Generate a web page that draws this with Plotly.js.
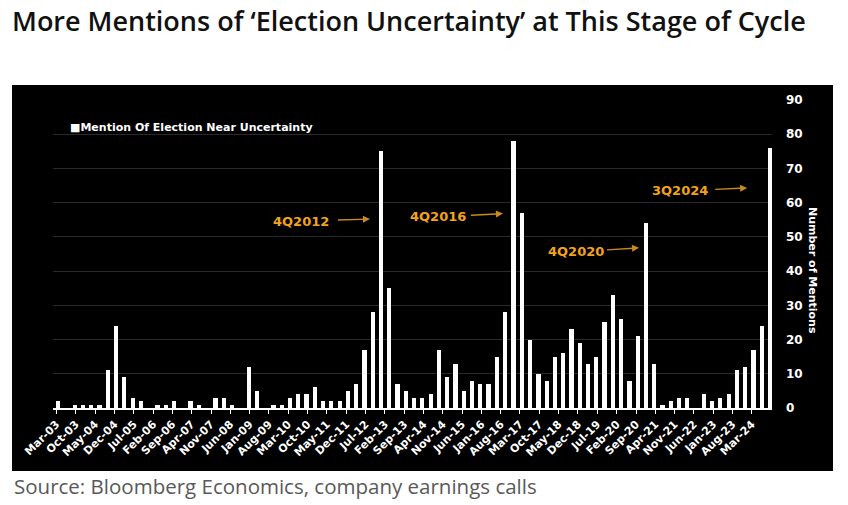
<!DOCTYPE html>
<html>
<head>
<meta charset="utf-8">
<script src="https://cdn.plot.ly/plotly-3.0.1.min.js"></script>
<style>
  html, body { margin: 0; padding: 0; background: #ffffff; }
  #chart { width: 848px; height: 505px; }
</style>
</head>
<body>
<div id="chart"></div>
<script>
// ---- Data ----
const seriesName = 'Mention Of Election Near Uncertainty';
const firstYear = 2003;           // first bar = 1Q2003, quarterly through 3Q2024
const mentions = [
  2, 0, 1, 1,      // 2003
  1, 1, 11, 24,    // 2004
  9, 3, 2, 0,      // 2005
  1, 1, 2, 0,      // 2006
  2, 1, 0, 3,      // 2007
  3, 1, 0, 12,     // 2008
  5, 0, 1, 1,      // 2009
  3, 4, 4, 6,      // 2010
  2, 2, 2, 5,      // 2011
  7, 17, 28, 75,   // 2012
  35, 7, 5, 3,     // 2013
  3, 4, 17, 9,     // 2014
  13, 5, 8, 7,     // 2015
  7, 15, 28, 78,   // 2016
  57, 20, 10, 8,   // 2017
  15, 16, 23, 19,  // 2018
  13, 15, 25, 33,  // 2019
  26, 8, 21, 54,   // 2020
  13, 1, 2, 3,     // 2021
  3, 0, 4, 2,      // 2022
  3, 4, 11, 12,    // 2023
  17, 24, 76       // 2024
];
const xTickLabels = [
  'Mar-03', 'Oct-03', 'May-04', 'Dec-04', 'Jul-05', 'Feb-06', 'Sep-06', 'Apr-07',
  'Nov-07', 'Jun-08', 'Jan-09', 'Aug-09', 'Mar-10', 'Oct-10', 'May-11', 'Dec-11',
  'Jul-12', 'Feb-13', 'Sep-13', 'Apr-14', 'Nov-14', 'Jun-15', 'Jan-16', 'Aug-16',
  'Mar-17', 'Oct-17', 'May-18', 'Dec-18', 'Jul-19', 'Feb-20', 'Sep-20', 'Apr-21',
  'Nov-21', 'Jun-22', 'Jan-23', 'Aug-23', 'Mar-24'
];
const calloutLabels = ['4Q2012', '4Q2016', '4Q2020', '3Q2024'];
const yTickVals = [0, 10, 20, 30, 40, 50, 60, 70, 80, 90];

// quarter-end month of each bar
const barDates = mentions.map((_, i) => {
  const y = firstYear + Math.floor(i / 4);
  const m = 3 + 3 * (i % 4);
  return y + '-' + String(m).padStart(2, '0') + '-20';
});
const monthIdx = { Jan: 1, Feb: 2, Mar: 3, Apr: 4, May: 5, Jun: 6, Jul: 7, Aug: 8, Sep: 9, Oct: 10, Nov: 11, Dec: 12 };
const xTickVals = xTickLabels.map(s => {
  const [mon, yy] = s.split('-');
  return '20' + yy + '-' + String(monthIdx[mon]).padStart(2, '0') + '-01';
});

const DAY = 86400000;
const orange = '#f2a31c';
const arrowCol = '#c98a22';

const trace = {
  type: 'bar',
  name: seriesName,
  x: barDates,
  y: mentions,
  width: 47 * DAY,
  marker: { color: '#ffffff', line: { width: 0 } },
  showlegend: false,
  hoverinfo: 'x+y'
};

function callout(text, x, y, ax, ay, pad) {
  return {
    xref: 'x', yref: 'y', x: x, y: y, text: text,
    showarrow: true, ax: ax, ay: ay, arrowhead: 2, arrowsize: 1, arrowwidth: 1.4,
    arrowcolor: arrowCol, borderpad: pad,
    font: { family: 'DejaVu Sans', size: 13, color: orange, weight: 'bold' }
  };
}

const layout = {
  width: 848, height: 505,
  paper_bgcolor: '#ffffff',
  plot_bgcolor: '#000000',
  margin: { l: 53, r: 76, t: 100, b: 97 },
  bargap: 0,
  title: {
    text: 'More Mentions of \u2018Election Uncertainty\u2019 at This Stage of Cycle',
    xref: 'container', yref: 'container', x: 12 / 848, xanchor: 'left',
    y: 1 - 22 / 505, yanchor: 'middle',
    font: { family: 'Open Sans', size: 27, color: '#111111', weight: 600 }
  },
  xaxis: {
    type: 'date',
    range: ['2003-01-23', '2024-10-10'],
    tickvals: xTickVals, ticktext: xTickLabels,
    tickangle: -45,
    ticks: 'outside', ticklen: 4, tickcolor: '#ffffff', tickwidth: 1,
    showline: true, linecolor: '#ffffff', linewidth: 1.5,
    showgrid: false, zeroline: false,
    tickfont: { family: 'DejaVu Sans', size: 11, color: '#ffffff', weight: 'bold' },
    fixedrange: true
  },
  yaxis: {
    side: 'right',
    range: [0, 90],
    tickvals: yTickVals,
    ticks: '', ticklabelstandoff: 13,
    showgrid: true, gridcolor: '#2a2a2a', gridwidth: 1,
    zeroline: false, showline: false,
    tickfont: { family: 'DejaVu Sans', size: 12, color: '#ffffff', weight: 'bold' },
    fixedrange: true
  },
  shapes: [{
    type: 'rect', xref: 'paper', yref: 'paper', layer: 'below',
    x0: (12 - 53) / 719, x1: (833 - 53) / 719,
    y0: (408 - 471) / 308, y1: (408 - 85) / 308,
    fillcolor: '#000000', line: { width: 0 }
  }],
  annotations: [
    callout(calloutLabels[0], '2012-08-19', 55.2, -68.5, 2, 8),
    callout(calloutLabels[1], '2016-08-25', 56.8, -64.5, 3.3, 4),
    callout(calloutLabels[2], '2020-10-04', 46.8, -63.5, 4, 3),
    callout(calloutLabels[3], '2024-01-10', 64.3, -67.5, 3, 7),
    {
      xref: 'paper', yref: 'paper', x: (68 - 53) / 719, y: (408 - 127) / 308,
      xanchor: 'left', yanchor: 'middle', showarrow: false,
      text: '\u25A0' + seriesName,
      font: { family: 'DejaVu Sans', size: 11, color: '#ffffff', weight: 'bold' }
    },
    {
      xref: 'paper', yref: 'paper', x: (813 - 53) / 719, y: (408 - 270) / 308,
      xanchor: 'center', yanchor: 'middle', showarrow: false, textangle: 90,
      text: 'Number of Mentions',
      font: { family: 'DejaVu Sans', size: 11, color: '#ffffff', weight: 'bold' }
    },
    {
      xref: 'paper', yref: 'paper', x: (12 - 53) / 719, y: (408 - 486) / 308,
      xanchor: 'left', yanchor: 'middle', showarrow: false,
      text: 'Source: Bloomberg Economics, company earnings calls',
      font: { family: 'Open Sans', size: 20.5, color: '#595959' }
    }
  ]
};

Plotly.newPlot('chart', [trace], layout, { displayModeBar: false, staticPlot: true });
</script>
</body>
</html>
